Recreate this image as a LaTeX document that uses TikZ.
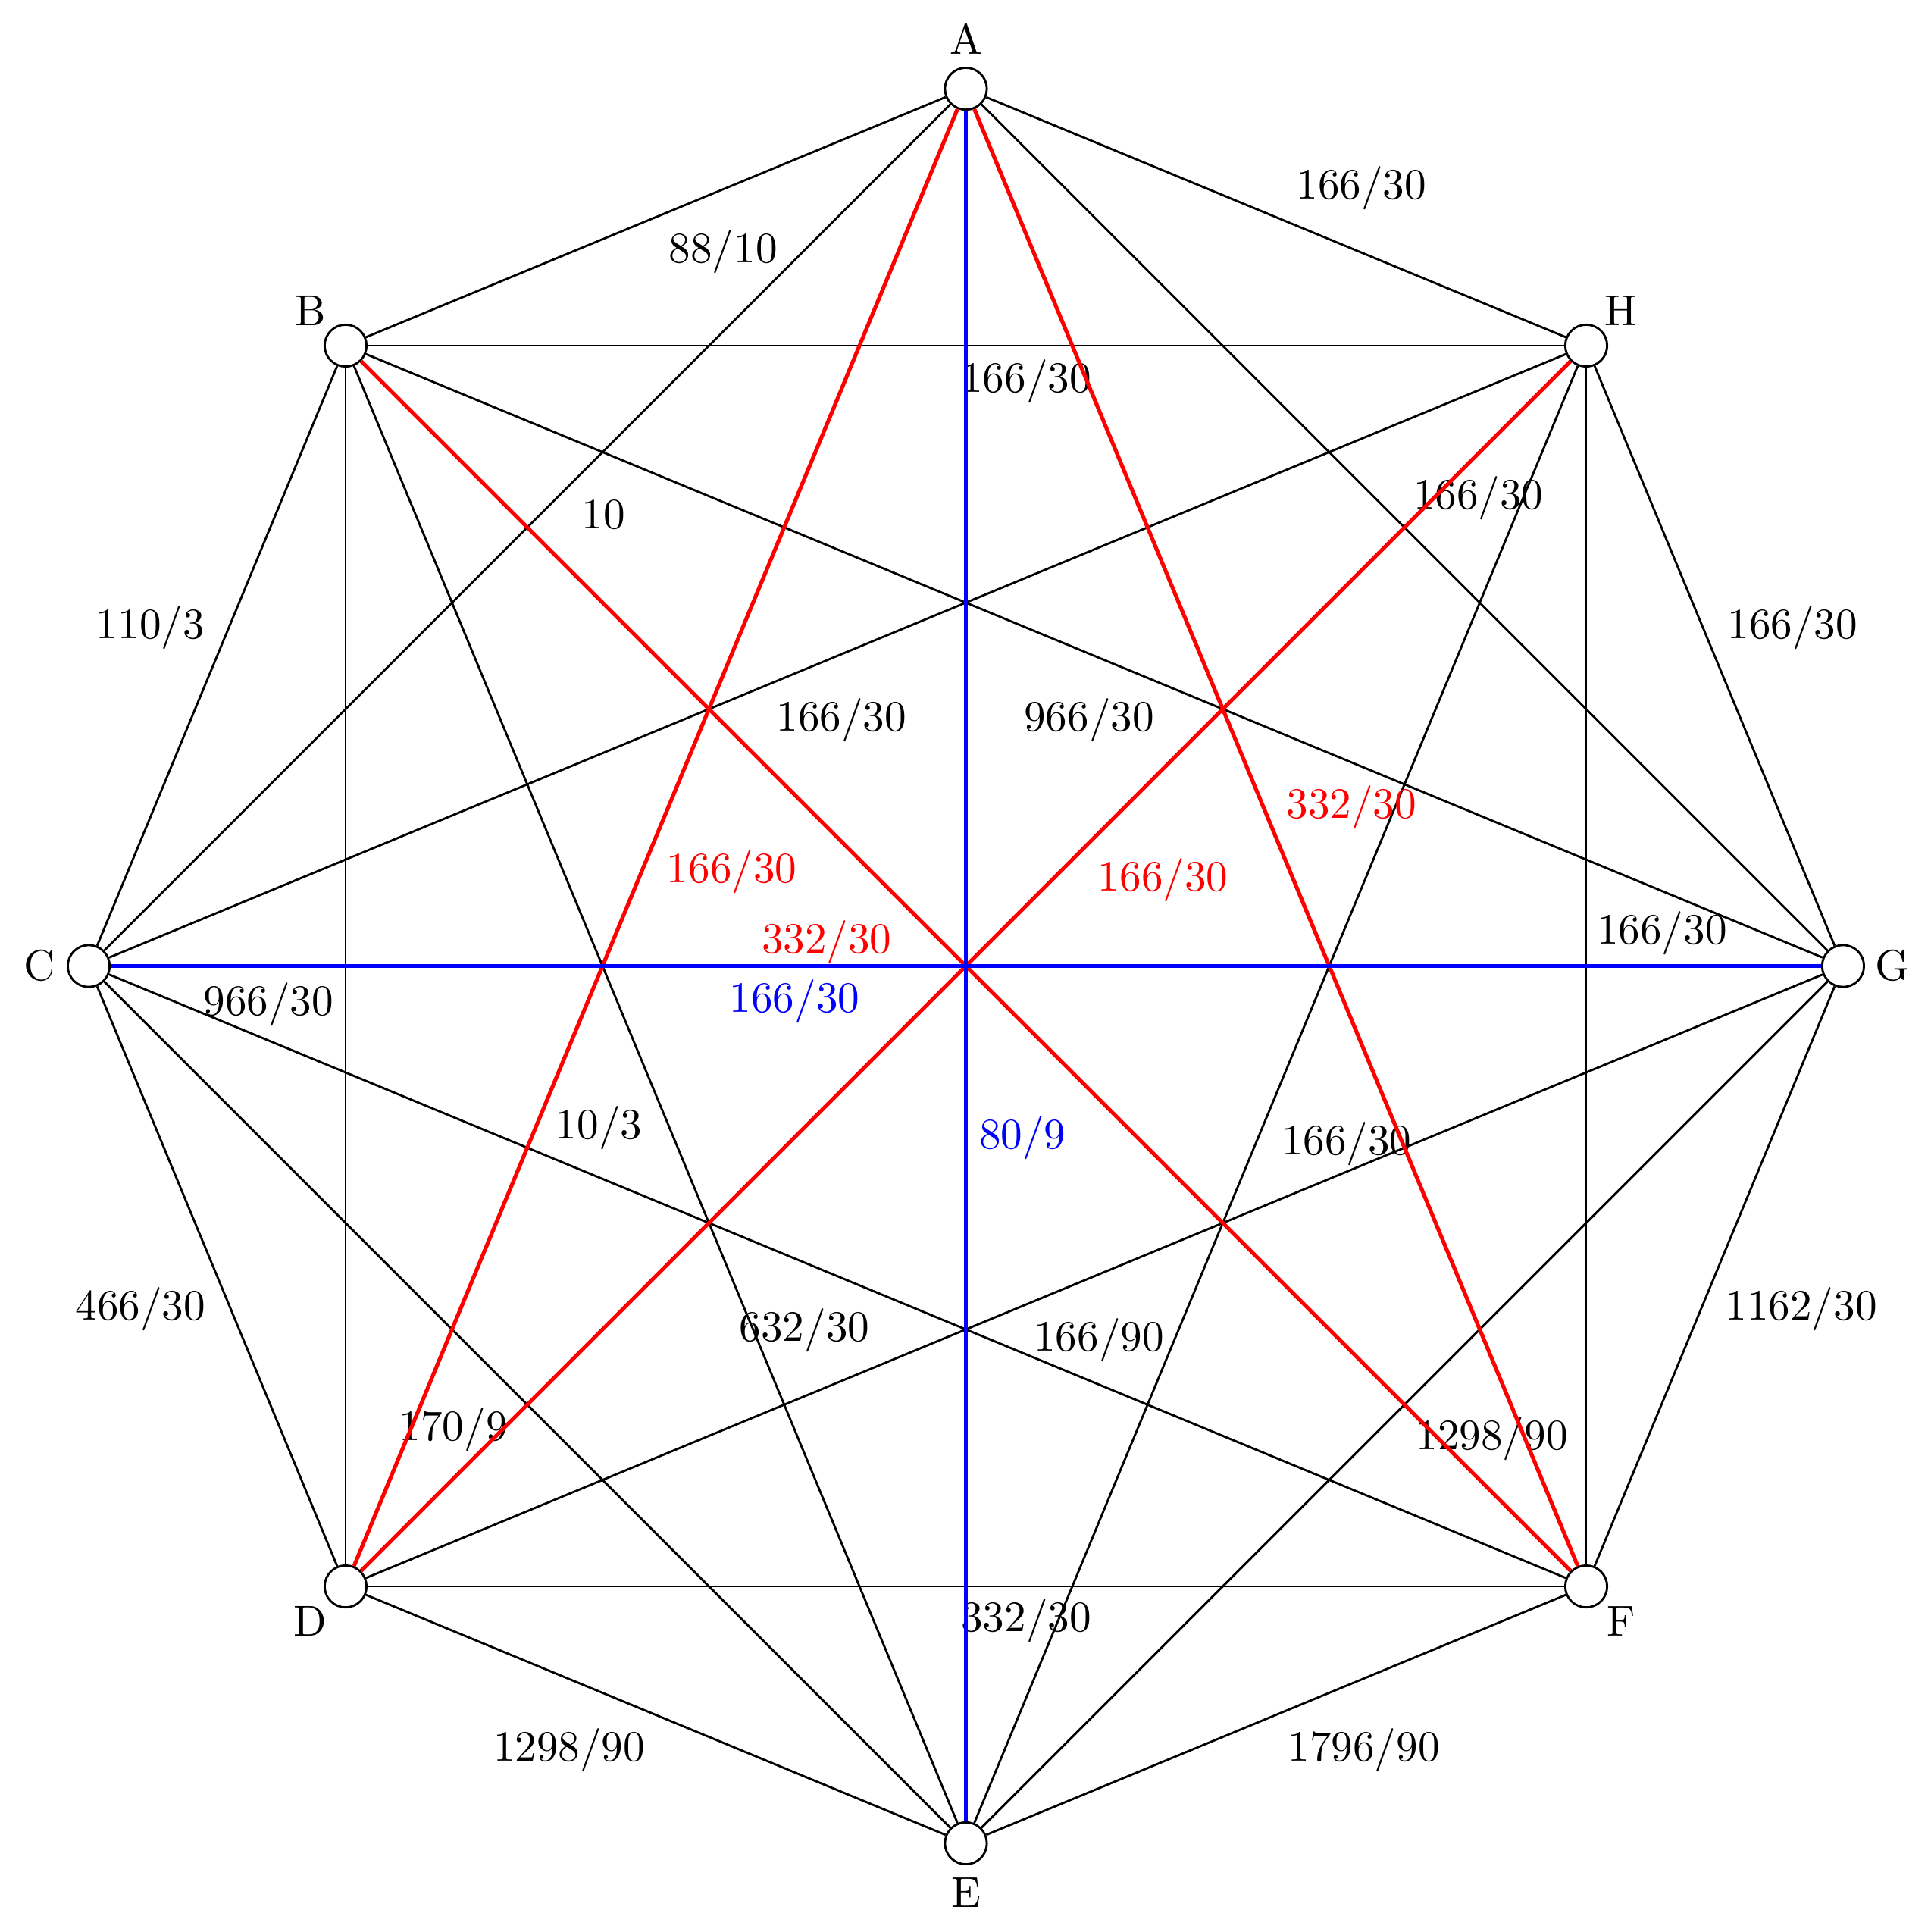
\documentclass[tikz,border=0pt]{standalone}
\begin{document}
\begin{tikzpicture}[x=0.01cm,y=-0.01cm,
  vtx/.style={circle,draw,fill=white,line width=0.5pt,minimum size=0.34cm,inner sep=0pt},
  blk/.style={line width=0.5pt},
  redline/.style={red,line width=0.9pt},
  blueline/.style={blue,line width=0.9pt},
  lbl/.style={inner sep=0pt,text height=6.4pt,text depth=0pt},
  vlab/.style={inner sep=0pt,text height=6.8pt,text depth=0pt}]
\useasboundingbox (0,0) rectangle (1567,1568);
% vertices
\node[vtx] (A) at (784,72) {};
\node[vtx] (B) at (280.5,280.5) {};
\node[vtx] (C) at (72,784) {};
\node[vtx] (D) at (280.5,1287.5) {};
\node[vtx] (E) at (784,1496) {};
\node[vtx] (F) at (1287.5,1287.5) {};
\node[vtx] (G) at (1496,784) {};
\node[vtx] (H) at (1287.5,280.5) {};
% vertex names
\node[vlab] (LA) at (784,32) {A};
\node[vlab] (LB) at (252,252) {B};
\node[vlab] (LC) at (32,784) {C};
\node[vlab] (LD) at (252,1316) {D};
\node[vlab] (LE) at (784,1536) {E};
\node[vlab] (LF) at (1316,1316) {F};
\node[vlab] (LG) at (1536,784) {G};
\node[vlab] (LH) at (1316,252) {H};
% black edges
\begin{scope}[blk]
\draw (A) -- (B) node[lbl,at={(587,202)}] {88/10};
\draw (A) -- (H) node[lbl,at={(1105,150)}] {166/30};
\draw (B) -- (C) node[lbl,at={(122,507)}] {110/3};
\draw (G) -- (H) node[lbl,at={(1455,507)}] {166/30};
\draw (C) -- (D) node[lbl,at={(114,1060)}] {466/30};
\draw (F) -- (G) node[lbl,at={(1462,1060)}] {1162/30};
\draw (D) -- (E) node[lbl,at={(462,1418)}] {1298/90};
\draw (E) -- (F) node[lbl,at={(1107,1418)}] {1796/90};
\draw (B) -- (H) node[lbl,at={(833,307)}] {166/30};
\draw (A) -- (C) node[lbl,at={(490,418)}] {10};
\draw (A) -- (G) node[lbl,at={(1200,402)}] {166/30};
\draw (C) -- (H) node[lbl,at={(683,582)}] {166/30};
\draw (B) -- (G) node[lbl,at={(884,582)}] {966/30};
\draw (F) -- (H) node[lbl,at={(1349,755)}] {166/30};
\draw (B) -- (D) node[lbl,at={(218,813)}] {966/30};
\draw (B) -- (E) node[lbl,at={(486,913)}] {10/3};
\draw (E) -- (H) node[lbl,at={(1093,926)}] {166/30};
\draw (C) -- (F) node[lbl,at={(653,1077)}] {632/30};
\draw (D) -- (G) node[lbl,at={(892,1085)}] {166/90};
\draw (C) -- (E) node[lbl,at={(368,1158)}] {170/9};
\draw (E) -- (G) node[lbl,at={(1211,1165)}] {1298/90};
\draw (D) -- (F) node[lbl,at={(833,1313)}] {332/30};
\end{scope}
% red edges
\begin{scope}[redline]
\draw (A) -- (F) node[lbl,at={(1097,653)}] {332/30};
\draw (A) -- (D) node[lbl,at={(594,705)}] {166/30};
\draw (D) -- (H) node[lbl,at={(944,712)}] {166/30};
\draw (B) -- (F) node[lbl,at={(671,762)}] {332/30};
\end{scope}
% blue edges
\begin{scope}[blueline]
\draw (C) -- (G) node[lbl,at={(645,810)}] {166/30};
\draw (A) -- (E) node[lbl,at={(830,921)}] {80/9};
\end{scope}
\end{tikzpicture}
\end{document}
